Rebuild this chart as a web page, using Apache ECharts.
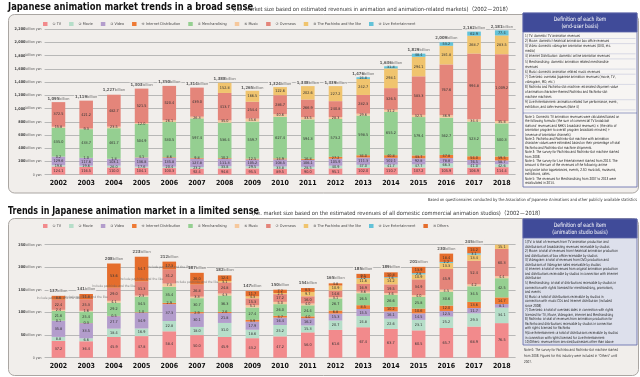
<!DOCTYPE html>
<html>
<head>
<meta charset="utf-8">
<script src="https://cdn.jsdelivr.net/npm/echarts@6/dist/echarts.min.js"></script>
<style>
html,body{margin:0;padding:0;background:#fff;}
#main{width:640px;height:377px;}
</style>
</head>
<body>
<div id="main"></div>
<script>
var NARROW = '"Liberation Sans Narrow","DejaVu Sans Condensed","Liberation Sans","Noto Sans CJK JP",sans-serif';

var years = ['2002','2003','2004','2005','2006','2007','2008','2009','2010','2011','2012','2013','2014','2015','2016','2017','2018'];
var seriesNames = ['① TV','② Movie','③ Video','④ Internet Distribution','⑤ Merchandising','⑥ Music','⑦ Overseas','⑧ The Pachinko and the like','⑨ Live Entertainment','⑩ Others'];
var colors = ['#f28a8c','#b6dec9','#b39dcc','#ee7a35','#95cf91','#f6c89c','#e4857a','#f0c46e','#63c2d8','#e56d2c'];

// broad sense (end-user basis), billion yen
var broadTV       = [124.1,116.5,110.0,104.1,100.3,92.4,94.6,95.5,89.5,90.0,95.1,102.0,110.7,107.2,105.9,106.9,114.4];
var broadMovie    = [19.6,19.6,26.0,17.6,20.4,23.2,33.8,29.5,33.8,28.5,40.9,47.0,41.7,47.7,66.3,41.0,42.6];
var broadVideo    = [129.6,117.6,103.1,136.8,135.8,127.8,111.3,105.2,108.5,106.1,105.9,111.3,102.1,92.8,78.8,76.5,58.7];
var broadNet      = [0.2,1.0,1.8,4.1,8.6,9.8,10.2,12.5,14.9,16.8,27.2,34.0,40.8,43.7,47.8,54.0,59.5];
var broadMerch    = [435.0,433.7,461.7,504.9,530.5,597.4,536.4,559.7,627.4,594.3,573.2,598.5,655.2,579.4,562.7,523.2,500.3];
var broadMusic    = [15.8,9.3,23.5,12.0,26.1,26.3,35.0,45.6,40.6,33.5,28.3,29.6,31.2,32.5,36.9,34.4,35.8];
var broadOverseas = [372.5,421.2,482.7,521.5,520.4,439.0,413.7,254.4,286.7,266.9,240.8,282.3,326.5,583.3,767.6,994.8,1009.2];
var broadPachinko = [null,null,null,null,null,null,152.8,166.5,122.6,202.6,227.2,242.7,298.1,294.1,281.8,268.7,283.5];
var broadLive     = [null,null,null,null,null,null,null,null,null,null,null,24.8,31.8,48.4,53.2,62.9,77.4];
var broadTotal    = [1095,1119,1227,1303,1350,1314,1388,1265,1324,1338,1339,1476,1636,1829,2009,2162,2181];

// limited sense (animation studio basis), billion yen
var ltdTV       = [37.2,36.4,45.9,47.8,58.4,50.0,45.9,43.2,47.2,56.0,61.6,67.4,63.7,60.5,65.7,68.9,76.5];
var ltdMovie    = [8.8,6.6,18.4,16.9,22.8,18.0,31.0,18.6,25.2,15.3,20.7,24.8,22.6,23.1,25.2,29.3,34.1];
var ltdVideo    = [35.8,33.5,27.7,34.9,37.3,30.1,21.8,17.9,16.4,16.2,15.3,15.5,16.1,14.5,12.5,11.7,8.1];
var ltdNet      = [0.1,0.3,0.5,1.0,2.9,2.9,2.6,3.9,3.7,4.0,6.8,8.5,10.2,10.6,12.0,13.6,14.7];
var ltdMerch    = [21.6,25.4,29.2,34.5,35.4,30.7,36.3,27.4,26.0,24.4,26.7,26.5,26.6,25.8,30.6,34.5,42.5];
var ltdMusic    = [2.4,1.6,4.1,2.3,7.3,3.3,4.3,5.1,5.0,4.0,3.1,3.6,3.6,4.0,4.5,4.2,4.4];
var ltdOverseas = [22.4,25.3,29.0,31.3,31.2,26.8,24.8,15.3,17.2,16.0,14.6,16.9,19.5,34.9,45.9,52.4,60.3];
var ltdPachinko = [null,null,null,null,null,null,3.1,4.3,2.5,9.7,10.9,11.6,14.2,10.9,13.3,13.4,15.1];
var ltdLive     = [null,null,null,null,null,null,null,null,null,null,null,1.2,1.6,2.8,2.2,3.1,3.9];
var ltdOthers   = [8.6,11.8,53.6,54.7,17.3,26.0,12.4,11.7,7.2,8.5,4.8,9.5,10.8,13.9,18.4,14.2,7.5];
var ltdTotal    = [137,141,208,223,212,187,182,147,150,154,165,185,189,201,230,245,267];

var broadData = [broadTV,broadMovie,broadVideo,broadNet,broadMerch,broadMusic,broadOverseas,broadPachinko,broadLive];
var ltdData = [ltdTV,ltdMovie,ltdVideo,ltdNet,ltdMerch,ltdMusic,ltdOverseas,ltdPachinko,ltdLive,ltdOthers];

// definition boxes
var broadDefs = [
	['1) TV: domestic TV animation revenues'],
	['2) Movie: domestic theatrical animation box office revenues'],
	['3) Video: domestic videogram animation revenues (DVD, etc.','media)'],
	['4) Internet Distribution: domestic online animation revenues'],
	['5) Merchandising: domestic animation related merchandise','revenues'],
	['6) Music: domestic animation related music revenues'],
	['7) Overseas: overseas Japanese animation revenues (movie, TV,','videogram, MD, etc.)'],
	['8) Pachinko and Pachinko-slot machine: estimated shipment value','of animation character-themed Pachinko and Pachinko-slot','machine machines'],
	['9) Live Entertainment: animation related live performance, event,','exhibition, and cafe revenues (Note 4)']
];
var broadNotes = [
	'Note 1: Domestic TV animation revenues were calculated based on',
	'the following formula: (the sum of commercial TV broadcast',
	'stations\' revenues and NHK\'s broadcast revenues) × (the ratio of',
	'animation program to overall program broadcast minutes) +',
	'(revenue of animation channels)',
	'Note 2: Pachinko and Pachinko-slot machine with animation',
	'character values were estimated based on their percentage of total',
	'Pachinko and Pachinko-slot machine shipments.',
	'Note 3: The survey for Pachinko and Pachinko-slot machine started',
	'from 2008.',
	'Note 4: The survey for Live Entertainment started from 2013. The',
	'amount is the sum of the revenues of the following: anime',
	'song/voice actor appearances, events, 2.5D musicals, museums,',
	'exhibitions, cafes.',
	'Note 5: The revenues for Merchandising from 2007 to 2013 were',
	'recalculated in 2014.'
];
var ltdDefs = [
	'1)TV: a total of revenues from TV animation production and',
	'distributions of broadcasting revenues receivable by studios',
	'2) Movie: a total of revenues from theatrical animation production',
	'and distributions of box office receivable by studios',
	'3) Videogram: a total of revenues from DVD production and',
	'distributions of Videogram sales receivable by studios',
	'4) Internet: a total of revenues from original animation production',
	'and distributions receivable by studios in connection with Internet',
	'distribution',
	'5) Merchandising: a total of distributions receivable by studios in',
	'connection with rights licensed for merchandising, promotions,',
	'and events',
	'6) Music: a total of distributions receivable by studios in',
	'connection with music CDs and Internet distribution (included',
	'since 2008)',
	'7) Overseas: a total of overseas sales in connection with rights',
	'licensed for TV, Movie, Videogram, Internet and Merchandising',
	'8) Pachinko: a total of revenues from animation production for',
	'Pachinko and distributions receivable by studios in connection',
	'with rights licensed for Pachinko',
	'9)Live Entertainment: a total of distributions receivable by studios',
	'in connection with rights licensed for Live Entertainment',
	'10)Others: revenue from services/businesses other than above'
];
var ltdNote = [
	'Note 6: The survey for Pachinko and Pachinko-slot machine started',
	'from 2008. Figures for this industry were included in "Others" until',
	'2007.'
];

function fmt1(v){
	return v.toLocaleString('en-US',{minimumFractionDigits:1,maximumFractionDigits:1});
}

var series = [];
function addBars(dataList, stack, axis){
	for (var i = 0; i < dataList.length; i++) {
		series.push({
			name : seriesNames[i],
			type : 'bar',
			stack : stack,
			xAxisIndex : axis,
			yAxisIndex : axis,
			barWidth : 13.6,
			data : dataList[i],
			itemStyle : { color : colors[i] },
			label : {
				show : true,
				position : 'inside',
				fontSize : 3.8,
				fontFamily : NARROW,
				color : '#333',
				formatter : function(p){ return p.value == null ? '' : fmt1(p.value); }
			},
			emphasis : { disabled : true }
		});
	}
}
addBars(broadData, 'broad', 0);
addBars(ltdData, 'ltd', 1);

// total labels above the stacks
function addTotals(totals, axis, dist){
	series.push({
		name : 'total' + axis,
		type : 'scatter',
		xAxisIndex : axis,
		yAxisIndex : axis,
		data : totals,
		symbolSize : 0.1,
		itemStyle : { color : 'rgba(0,0,0,0)' },
		z : 5,
		label : {
			show : true,
			position : 'top',
			distance : dist,
			backgroundColor : '#f1eeeb',
			padding : [0.5,1],
			formatter : function(p){ return '{n|' + p.value.toLocaleString('en-US') + '}{u|billion}'; },
			rich : {
				n : { fontSize : 4.2, fontWeight : 'bold', fontFamily : NARROW, color : '#333' },
				u : { fontSize : 3.8, fontFamily : NARROW, color : '#444' }
			}
		}
	});
}
addTotals(broadTotal, 0, 0.8);
addTotals(ltdTotal, 1, 2.5);

// "Include pachinko and the like" notes on Others, 2002-2007
var othersBase = years.map(function(y, i){
	if (i > 5) return null;
	var s = 0;
	for (var k = 0; k < ltdData.length - 1; k++) s += ltdData[k][i] || 0;
	return s;
});
series.push({
	name : 'note',
	type : 'scatter',
	xAxisIndex : 1,
	yAxisIndex : 1,
	data : othersBase,
	symbolSize : 0.1,
	itemStyle : { color : 'rgba(0,0,0,0)' },
	z : 6,
	label : {
		show : true,
		position : 'inside',
		offset : [0,-2],
		fontSize : 3.3,
		fontFamily : NARROW,
		color : '#666',
		formatter : 'Include pachinko and the like'
	}
});

function yLabel(v){
	if (v === 0) return '{u|0 yen}';
	return '{n|' + v.toLocaleString('en-US') + '}{u|billion yen}';
}
var yRich = {
	n : { fontSize : 3.8, fontWeight : 'bold', fontFamily : NARROW, color : '#444' },
	u : { fontSize : 3.5, fontFamily : NARROW, color : '#555' }
};

// graphic: panels, titles, definition boxes
var graphics = [];
graphics.push({ type:'rect', z:-10, shape:{x:8.5,y:14.5,width:630,height:178.5,r:6}, style:{fill:'#f1eeeb',stroke:'#aaa6a2',lineWidth:1} });
graphics.push({ type:'rect', z:-10, shape:{x:8.5,y:218.5,width:630,height:157,r:6}, style:{fill:'#f1eeeb',stroke:'#aaa6a2',lineWidth:1} });

function txt(x, y, s, size, opts){
	opts = opts || {};
	graphics.push({
		type : 'text', x : x, y : y, z : 20,
		scaleX : opts.sx || 1,
		style : {
			text : s,
			fontSize : size,
			fontFamily : NARROW,
			fontWeight : opts.bold ? 'bold' : 'normal',
			fill : opts.color || '#222',
			align : opts.align || 'left',
			verticalAlign : 'middle'
		}
	});
}
txt(8, 7.5, 'Japanese animation market trends in a broad sense', 11, {bold:true, color:'#111', sx:0.85});
txt(233, 9.5, '(i.e. market size based on estimated revenues in animation and animation-related markets)（2002－2018）', 5.7, {color:'#333'});
txt(8, 211.5, 'Trends in Japanese animation market in a limited sense', 11, {bold:true, color:'#111', sx:0.81});
txt(252, 213.5, '(i.e. market size based on the estimated revenues of all domestic commercial animation studios)（2002－2018）', 5.7, {color:'#333'});
txt(637, 200, 'Based on questionnaires conducted by the Association of Japanese Animations and other publicly available statistics', 4.2, {align:'right', color:'#333', sx:0.95});

var BODY = 3.9, BSX = 0.8;
// top definition box
graphics.push({ type:'rect', z:15, shape:{x:523,y:13,width:114,height:174}, style:{fill:'#f7f5f3',stroke:'#5d65a8',lineWidth:0.8} });
graphics.push({ type:'rect', z:16, shape:{x:523,y:13,width:114,height:19}, style:{fill:'#404b99',stroke:'#5d65a8',lineWidth:0.8} });
txt(580, 19, 'Definition of each item', 6, {align:'center', color:'#fff', sx:0.85});
txt(580, 26, '(end-user basis)', 6, {align:'center', color:'#fff', sx:0.85});
var yy = 36, lh = 5.1;
broadDefs.forEach(function(item){
	item.forEach(function(line){ txt(525, yy, line, BODY, {color:'#222', sx:BSX}); yy += lh; });
	graphics.push({ type:'line', z:16, shape:{x1:524.5,y1:yy-2.6,x2:635.5,y2:yy-2.6}, style:{stroke:'#b9bcd6',lineWidth:0.5} });
});
graphics.push({ type:'line', z:16, shape:{x1:523,y1:113,x2:637,y2:113}, style:{stroke:'#5d65a8',lineWidth:0.6} });
yy = 117;
broadNotes.forEach(function(line){ txt(525, yy, line, BODY, {color:'#222', sx:BSX}); yy += 4.4; });

// bottom definition box
graphics.push({ type:'rect', z:15, shape:{x:523,y:219,width:114,height:126}, style:{fill:'#dde0ec',stroke:'#5d65a8',lineWidth:0.8} });
graphics.push({ type:'rect', z:16, shape:{x:523,y:219,width:114,height:19}, style:{fill:'#404b99',stroke:'#5d65a8',lineWidth:0.8} });
txt(580, 225, 'Definition of each item', 6, {align:'center', color:'#fff', sx:0.85});
txt(580, 232, '(animation studio basis)', 6, {align:'center', color:'#fff', sx:0.85});
yy = 242;
ltdDefs.forEach(function(line){ txt(525, yy, line, BODY, {color:'#222', sx:BSX}); yy += 4.55; });
yy = 350;
ltdNote.forEach(function(line){ txt(524, yy, line, BODY, {color:'#333', sx:BSX}); yy += 5.8; });

function legendOpt(names, top){
	return {
		data : names,
		left : 43,
		top : top,
		orient : 'horizontal',
		icon : 'rect',
		itemWidth : 4.5,
		itemHeight : 4,
		itemGap : 8,
		selectedMode : false,
		padding : 0,
		textStyle : { fontSize : 3.8, fontFamily : NARROW, color : '#444' }
	};
}

function xAxisOpt(grid, margin){
	return {
		type : 'category',
		gridIndex : grid,
		data : years,
		axisLine : { show : false },
		axisTick : { show : false },
		axisLabel : { margin : margin, fontSize : 7, fontWeight : 'bold', fontFamily : NARROW, color : '#111' }
	};
}
function yAxisOpt(grid, max, interval){
	return {
		type : 'value',
		gridIndex : grid,
		min : 0,
		max : max,
		interval : interval,
		axisLine : { show : false },
		axisTick : { show : false },
		splitLine : { lineStyle : { color : '#a9a9a9', width : 0.8 } },
		axisLabel : { margin : 3, formatter : yLabel, rich : yRich }
	};
}

var myChart = echarts.init(document.getElementById('main'), null, { renderer : 'canvas' });
option = {
	animation : false,
	backgroundColor : '#ffffff',
	textStyle : { fontFamily : NARROW },
	legend : [ legendOpt(seriesNames.slice(0, 9), 22), legendOpt(seriesNames, 224) ],
	grid : [
		{ left : 44.6, right : 124.4, top : 29.1, bottom : 202.3, containLabel : false, outerBoundsMode : 'none' },
		{ left : 44.6, right : 124.4, top : 244.7, bottom : 19.3, containLabel : false, outerBoundsMode : 'none' }
	],
	xAxis : [ xAxisOpt(0, 4.5), xAxisOpt(1, 4.5) ],
	yAxis : [ yAxisOpt(0, 2200, 200), yAxisOpt(1, 250, 50) ],
	graphic : { elements : graphics },
	series : series
};
myChart.setOption(option);
</script>
</body>
</html>
